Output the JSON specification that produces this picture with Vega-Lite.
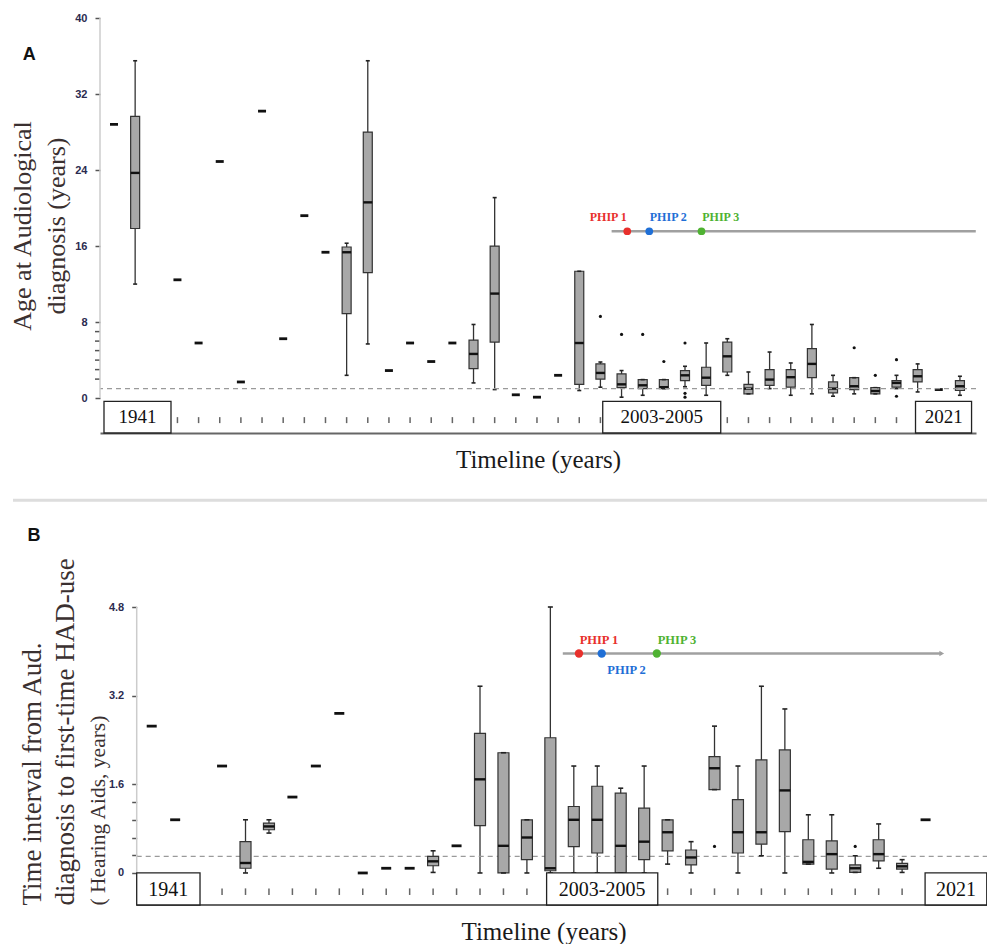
{
  "$schema": "https://vega.github.io/schema/vega-lite/v6.json",
  "background": "white",
  "padding": {"left": 9, "top": 12, "right": 0, "bottom": 0},
  "spacing": 26,
  "config": {"view": {"stroke": null}, "axis": {"grid": false, "labelOverlap": false}, "font": "Liberation Serif", "scale": {"continuousPadding": 0}},
  "datasets": {
    "A_box": [
      {"i": 2, "lo": 12.0, "q1": 17.85, "med": 23.7, "q3": 29.65, "hi": 35.5},
      {"i": 12, "lo": 2.4, "q1": 8.9, "med": 15.35, "q3": 15.9, "hi": 16.3},
      {"i": 13, "lo": 5.7, "q1": 13.2, "med": 20.6, "q3": 28.0, "hi": 35.5},
      {"i": 18, "lo": 1.6, "q1": 3.1, "med": 4.65, "q3": 6.1, "hi": 7.75},
      {"i": 19, "lo": 0.9, "q1": 5.9, "med": 11.0, "q3": 16.0, "hi": 21.1},
      {"i": 23, "lo": 0.8, "q1": 1.45, "med": 5.8, "q3": 13.35, "hi": 13.35},
      {"i": 24, "lo": 1.15, "q1": 2.0, "med": 2.65, "q3": 3.6, "hi": 3.8},
      {"i": 25, "lo": 0.1, "q1": 1.1, "med": 1.45, "q3": 2.55, "hi": 2.9},
      {"i": 26, "lo": 0.3, "q1": 1.0, "med": 1.35, "q3": 1.95, "hi": 1.95},
      {"i": 27, "lo": 1.0, "q1": 1.0, "med": 1.15, "q3": 1.95, "hi": 1.95},
      {"i": 28, "lo": 1.2, "q1": 1.85, "med": 2.4, "q3": 2.9, "hi": 3.35},
      {"i": 29, "lo": 0.3, "q1": 1.35, "med": 2.15, "q3": 3.25, "hi": 5.8},
      {"i": 30, "lo": 2.4, "q1": 2.75, "med": 4.4, "q3": 5.9, "hi": 6.25},
      {"i": 31, "lo": 0.45, "q1": 0.45, "med": 1.0, "q3": 1.45, "hi": 2.75},
      {"i": 32, "lo": 1.0, "q1": 1.35, "med": 1.95, "q3": 3.0, "hi": 4.85},
      {"i": 33, "lo": 0.3, "q1": 1.15, "med": 2.2, "q3": 3.0, "hi": 3.7},
      {"i": 34, "lo": 0.45, "q1": 2.15, "med": 3.6, "q3": 5.2, "hi": 7.75},
      {"i": 35, "lo": 0.2, "q1": 0.55, "med": 1.0, "q3": 1.7, "hi": 2.4},
      {"i": 36, "lo": 0.45, "q1": 0.9, "med": 1.25, "q3": 2.15, "hi": 2.15},
      {"i": 37, "lo": 0.45, "q1": 0.45, "med": 0.75, "q3": 1.1, "hi": 1.1},
      {"i": 38, "lo": 1.0, "q1": 1.15, "med": 1.6, "q3": 1.85, "hi": 2.4},
      {"i": 39, "lo": 0.65, "q1": 1.7, "med": 2.3, "q3": 3.0, "hi": 3.6},
      {"i": 41, "lo": 0.3, "q1": 0.8, "med": 1.25, "q3": 1.85, "hi": 2.3}
    ],
    "A_single": [
      {"i": 1, "v": 28.8}, {"i": 4, "v": 12.45}, {"i": 5, "v": 5.8}, {"i": 6, "v": 24.9},
      {"i": 7, "v": 1.7}, {"i": 8, "v": 30.2}, {"i": 9, "v": 6.25}, {"i": 10, "v": 19.2},
      {"i": 11, "v": 15.35}, {"i": 14, "v": 2.9}, {"i": 15, "v": 5.8}, {"i": 16, "v": 3.85},
      {"i": 17, "v": 5.8}, {"i": 20, "v": 0.35}, {"i": 21, "v": 0.1}, {"i": 22, "v": 2.4},
      {"i": 40, "v": 0.9}
    ],
    "A_out": [
      {"i": 24, "v": 8.6}, {"i": 25, "v": 6.7}, {"i": 26, "v": 6.7}, {"i": 27, "v": 3.85},
      {"i": 28, "v": 5.8}, {"i": 28, "v": 0.5}, {"i": 28, "v": 0.1}, {"i": 36, "v": 5.3},
      {"i": 37, "v": 2.4}, {"i": 38, "v": 4.05}, {"i": 38, "v": 0.2}
    ],
    "A_minor": [{"v": 2}, {"v": 3}, {"v": 4}, {"v": 5}, {"v": 6}, {"v": 7}],
    "A_ticks": [
      {"i": 4}, {"i": 5}, {"i": 6}, {"i": 7}, {"i": 8}, {"i": 9}, {"i": 10}, {"i": 11},
      {"i": 12}, {"i": 13}, {"i": 14}, {"i": 15}, {"i": 16}, {"i": 17}, {"i": 18}, {"i": 19},
      {"i": 20}, {"i": 21}, {"i": 22}, {"i": 23}, {"i": 24}, {"i": 30}, {"i": 31}, {"i": 32},
      {"i": 33}, {"i": 34}, {"i": 35}, {"i": 36}, {"i": 37}, {"i": 38}
    ],
    "A_years": [
      {"label": "1941", "start": 0.527, "end": 3.695, "mid": 2.11},
      {"label": "2003-2005", "start": 24.11, "end": 29.69, "mid": 26.9},
      {"label": "2021", "start": 38.9, "end": 41.55, "mid": 40.23}
    ],
    "A_line": [{"start": 24.53, "end": 41.75}],
    "A_phip": [
      {"label": "PHIP 1", "dot": 25.27, "lab": 24.37, "ly": 19.1},
      {"label": "PHIP 2", "dot": 26.31, "lab": 27.21, "ly": 19.1},
      {"label": "PHIP 3", "dot": 28.78, "lab": 29.69, "ly": 19.1}
    ],
    "B_box": [
      {"i": 5, "lo": 0, "q1": 0.085, "med": 0.18, "q3": 0.565, "hi": 0.96},
      {"i": 6, "lo": 0.72, "q1": 0.78, "med": 0.84, "q3": 0.9, "hi": 0.96},
      {"i": 13, "lo": 0.01, "q1": 0.13, "med": 0.21, "q3": 0.3, "hi": 0.4},
      {"i": 15, "lo": 0, "q1": 0.855, "med": 1.69, "q3": 2.52, "hi": 3.37},
      {"i": 16, "lo": 0, "q1": 0, "med": 0.49, "q3": 2.17, "hi": 2.17},
      {"i": 17, "lo": 0, "q1": 0.24, "med": 0.64, "q3": 0.96, "hi": 0.96},
      {"i": 18, "lo": 0, "q1": 0.04, "med": 0.085, "q3": 2.44, "hi": 4.8},
      {"i": 19, "lo": 0, "q1": 0.475, "med": 0.96, "q3": 1.2, "hi": 1.93},
      {"i": 20, "lo": 0, "q1": 0.36, "med": 0.96, "q3": 1.565, "hi": 1.93},
      {"i": 21, "lo": 0, "q1": 0, "med": 0.49, "q3": 1.44, "hi": 1.53},
      {"i": 22, "lo": 0, "q1": 0.24, "med": 0.565, "q3": 1.17, "hi": 1.93},
      {"i": 23, "lo": 0.16, "q1": 0.4, "med": 0.735, "q3": 0.96, "hi": 0.96},
      {"i": 24, "lo": 0, "q1": 0.145, "med": 0.28, "q3": 0.415, "hi": 0.565},
      {"i": 25, "lo": 1.505, "q1": 1.505, "med": 1.89, "q3": 2.1, "hi": 2.65},
      {"i": 26, "lo": 0, "q1": 0.36, "med": 0.735, "q3": 1.325, "hi": 1.93},
      {"i": 27, "lo": 0.31, "q1": 0.52, "med": 0.735, "q3": 2.04, "hi": 3.37},
      {"i": 28, "lo": 0, "q1": 0.745, "med": 1.49, "q3": 2.22, "hi": 2.96},
      {"i": 29, "lo": 0.16, "q1": 0.16, "med": 0.2, "q3": 0.6, "hi": 1.05},
      {"i": 30, "lo": 0, "q1": 0.07, "med": 0.34, "q3": 0.58, "hi": 1.05},
      {"i": 31, "lo": 0.01, "q1": 0.01, "med": 0.085, "q3": 0.145, "hi": 0.31},
      {"i": 32, "lo": 0.085, "q1": 0.22, "med": 0.34, "q3": 0.6, "hi": 0.885},
      {"i": 33, "lo": 0.01, "q1": 0.07, "med": 0.12, "q3": 0.175, "hi": 0.24}
    ],
    "B_single": [
      {"i": 1, "v": 2.65}, {"i": 2, "v": 0.96}, {"i": 4, "v": 1.93}, {"i": 7, "v": 1.37},
      {"i": 8, "v": 1.93}, {"i": 9, "v": 2.88}, {"i": 10, "v": 0.0}, {"i": 11, "v": 0.085},
      {"i": 12, "v": 0.085}, {"i": 14, "v": 0.49}, {"i": 34, "v": 0.96}
    ],
    "B_out": [{"i": 25, "v": 0.48}, {"i": 31, "v": 0.48}],
    "B_ticks": [
      {"i": 4}, {"i": 5}, {"i": 6}, {"i": 7}, {"i": 8}, {"i": 9}, {"i": 10}, {"i": 11},
      {"i": 12}, {"i": 13}, {"i": 14}, {"i": 15}, {"i": 16}, {"i": 17}, {"i": 23}, {"i": 24},
      {"i": 25}, {"i": 26}, {"i": 27}, {"i": 28}, {"i": 29}, {"i": 30}, {"i": 31}, {"i": 32}, {"i": 33}
    ],
    "B_years": [
      {"label": "1941", "start": 0.36, "end": 3.06, "mid": 1.71},
      {"label": "2003-2005", "start": 17.84, "end": 22.58, "mid": 20.21},
      {"label": "2021", "start": 33.98, "end": 36.61, "mid": 35.3}
    ],
    "B_line": [{"start": 18.53, "end": 34.69}],
    "B_phip": [
      {"label": "PHIP 1", "dot": 19.22, "lab": 20.07, "ly": 4.21},
      {"label": "PHIP 2", "dot": 20.19, "lab": 21.25, "ly": 3.67},
      {"label": "PHIP 3", "dot": 22.54, "lab": 23.4, "ly": 4.21}
    ]
  },
  "vconcat": [
    {
      "width": 876,
      "height": 415,
      "title": {"text": "A", "anchor": "start", "frame": "bounds", "orient": "top", "offset": -52, "dx": 13, "font": "Liberation Sans", "fontSize": 18, "fontWeight": "bold", "color": "#111"},
      "layer": [
        {
          "data": {"name": "A_box"},
          "mark": {"type": "rule", "color": "#333", "strokeWidth": 1.3},
          "encoding": {
            "x": {"field": "i", "type": "quantitative", "scale": {"domain": [0.338, 41.76], "nice": false, "zero": false, "padding": 0},
              "axis": {"title": "Timeline (years)", "titleFont": "Liberation Serif", "titleFontSize": 25, "titleFontWeight": "normal", "titleColor": "#1a1a1a", "titlePadding": 14, "labels": false, "ticks": false, "grid": false, "domain": true, "domainColor": "#666", "domainWidth": 2}},
            "y": {"field": "lo", "type": "quantitative", "scale": {"domain": [-3.67, 40], "nice": false, "zero": false, "padding": 0},
              "axis": {"title": ["Age at Audiological", "diagnosis (years)"], "titleFont": "Liberation Serif", "titleFontSize": 26, "titleFontWeight": "normal", "titleColor": "#3a3030", "titlePadding": 5, "titleLineHeight": 34,
                "values": [0, 8, 16, 24, 32, 40], "format": "d",
                "labelFont": "Liberation Sans", "labelFontSize": 11, "labelFontWeight": "bold", "labelColor": "#2b2b50", "labelPadding": 8,
                "tickSize": 5, "tickColor": "#555", "tickWidth": 1.5, "domain": false, "grid": false}},
            "y2": {"field": "hi"}
          }
        },
        {
          "data": {"name": "A_minor"},
          "mark": {"type": "tick", "orient": "horizontal", "size": 5, "thickness": 1.5, "color": "#555", "opacity": 1, "xOffset": -2.5},
          "encoding": {
            "x": {"datum": 0.338, "type": "quantitative"},
            "y": {"field": "v", "type": "quantitative"}
          }
        },
        {
          "data": {"name": "A_box"},
          "mark": {"type": "bar", "size": 9, "fill": "#a8a8a8", "stroke": "#333", "strokeWidth": 1.2},
          "encoding": {
            "x": {"field": "i", "type": "quantitative"},
            "y": {"field": "q1", "type": "quantitative"},
            "y2": {"field": "q3"}
          }
        },
        {
          "data": {"name": "A_box"},
          "mark": {"type": "tick", "orient": "horizontal", "size": 9, "thickness": 2.4, "color": "#111", "opacity": 1},
          "encoding": {
            "x": {"field": "i", "type": "quantitative"},
            "y": {"field": "med", "type": "quantitative"}
          }
        },
        {
          "data": {"name": "A_box"},
          "transform": [{"fold": ["lo", "hi"], "as": ["k", "cap"]}],
          "mark": {"type": "tick", "orient": "horizontal", "size": 4, "thickness": 1.6, "color": "#222", "opacity": 1},
          "encoding": {
            "x": {"field": "i", "type": "quantitative"},
            "y": {"field": "cap", "type": "quantitative"}
          }
        },
        {
          "data": {"name": "A_single"},
          "mark": {"type": "tick", "orient": "horizontal", "size": 8, "thickness": 2.8, "color": "#111", "opacity": 1},
          "encoding": {
            "x": {"field": "i", "type": "quantitative"},
            "y": {"field": "v", "type": "quantitative"}
          }
        },
        {
          "data": {"name": "A_out"},
          "mark": {"type": "point", "filled": true, "size": 10, "color": "#111", "opacity": 1},
          "encoding": {
            "x": {"field": "i", "type": "quantitative"},
            "y": {"field": "v", "type": "quantitative"}
          }
        },
        {
          "data": {"values": [{"ref": 1.0}]},
          "mark": {"type": "rule", "color": "#9a9a9a", "strokeWidth": 1.3, "strokeDash": [5, 4]},
          "encoding": {
            "y": {"field": "ref", "type": "quantitative"}
          }
        },
        {
          "data": {"values": [{"a": 0}]},
          "mark": {"type": "rule", "color": "#cccccc", "strokeWidth": 1.5},
          "encoding": {
            "x": {"datum": 0.338, "type": "quantitative"},
            "y": {"datum": 0, "type": "quantitative"},
            "y2": {"datum": 40}
          }
        },
        {
          "data": {"name": "A_ticks"},
          "mark": {"type": "rule", "color": "#666", "strokeWidth": 1.5},
          "encoding": {
            "x": {"field": "i", "type": "quantitative"},
            "y": {"datum": -2.0, "type": "quantitative"},
            "y2": {"datum": -2.63}
          }
        },
        {
          "data": {"name": "A_years"},
          "mark": {"type": "rect", "fill": "white", "stroke": "#222", "strokeWidth": 1.3},
          "encoding": {
            "x": {"field": "start", "type": "quantitative"},
            "x2": {"field": "end"},
            "y": {"datum": -0.35, "type": "quantitative"},
            "y2": {"datum": -3.67}
          }
        },
        {
          "data": {"name": "A_years"},
          "mark": {"type": "text", "font": "Liberation Serif", "fontSize": 19, "color": "#111", "baseline": "middle", "align": "center"},
          "encoding": {
            "x": {"field": "mid", "type": "quantitative"},
            "y": {"datum": -2.0, "type": "quantitative"},
            "text": {"field": "label"}
          }
        },
        {
          "data": {"name": "A_line"},
          "mark": {"type": "rule", "color": "#a0a0a0", "strokeWidth": 2.5},
          "encoding": {
            "x": {"field": "start", "type": "quantitative"},
            "x2": {"field": "end"},
            "y": {"datum": 17.56, "type": "quantitative"}
          }
        },
        {
          "data": {"name": "A_phip"},
          "mark": {"type": "point", "filled": true, "size": 60, "opacity": 1},
          "encoding": {
            "x": {"field": "dot", "type": "quantitative"},
            "y": {"datum": 17.56, "type": "quantitative"},
            "color": {"field": "label", "type": "nominal", "scale": {"domain": ["PHIP 1", "PHIP 2", "PHIP 3"], "range": ["#e8302c", "#1f6fd6", "#4fb232"]}, "legend": null}
          }
        },
        {
          "data": {"name": "A_phip"},
          "mark": {"type": "text", "font": "Liberation Serif", "fontSize": 12, "fontWeight": "bold", "baseline": "middle", "align": "center"},
          "encoding": {
            "x": {"field": "lab", "type": "quantitative"},
            "y": {"field": "ly", "type": "quantitative"},
            "text": {"field": "label"},
            "color": {"field": "label", "type": "nominal", "scale": {"domain": ["PHIP 1", "PHIP 2", "PHIP 3"], "range": ["#e8302c", "#1f6fd6", "#4fb232"]}, "legend": null}
          }
        }
      ]
    },
    {
      "width": 887,
      "height": 298,
      "title": {"text": "B", "anchor": "start", "frame": "bounds", "orient": "top", "offset": -46, "dx": 16, "font": "Liberation Sans", "fontSize": 18, "fontWeight": "bold", "color": "#111"},
      "resolve": {"axis": {"y": "independent"}},
      "layer": [
        {
          "data": {"name": "B_box"},
          "mark": {"type": "rule", "color": "#333", "strokeWidth": 1.3},
          "encoding": {
            "x": {"field": "i", "type": "quantitative", "scale": {"domain": [-1.205, 36.62], "nice": false, "zero": false, "padding": 0},
              "axis": {"title": "Timeline (years)", "titleFont": "Liberation Serif", "titleFontSize": 25, "titleFontWeight": "normal", "titleColor": "#1a1a1a", "titlePadding": 14, "labels": false, "ticks": false, "grid": false, "domain": false}},
            "y": {"field": "lo", "type": "quantitative", "scale": {"domain": [-0.578, 4.8], "nice": false, "zero": false, "padding": 0},
              "axis": {"orient": "left", "offset": -36.7, "title": ["Time interval from Aud.", "diagnosis to first-time HAD-use"], "titleFont": "Liberation Serif", "titleFontSize": 27, "titleFontWeight": "normal", "titleColor": "#3a3030", "titleAnchor": "start", "titlePadding": 29, "titleLineHeight": 33,
                "values": [0, 0.32, 0.64, 0.96, 1.28, 1.6, 3.2, 4.8], "labelExpr": "(datum.value == 0 || datum.value == 1.6 || datum.value == 3.2 || datum.value == 4.8) ? datum.label : ''", "format": "~g", "labelOverlap": false,
                "labelFont": "Liberation Sans", "labelFontSize": 11, "labelFontWeight": "bold", "labelColor": "#2b2b50", "labelPadding": 8,
                "tickSize": 5, "tickColor": "#555", "tickWidth": 1.5, "domain": false, "grid": false}},
            "y2": {"field": "hi"}
          }
        },
        {
          "data": {"values": [{"ref": 0.3}]},
          "mark": {"type": "rule", "color": "#9a9a9a", "strokeWidth": 1.3, "strokeDash": [5, 4]},
          "encoding": {
            "x": {"datum": 0.36, "type": "quantitative"},
            "x2": {"datum": 36.62},
            "y": {"field": "ref", "type": "quantitative",
              "axis": {"orient": "left", "offset": -36.7, "title": "( Hearing Aids, years)", "titleFont": "Liberation Serif", "titleFontSize": 21.5, "titleFontWeight": "normal", "titleColor": "#3a3030", "titleAnchor": "start", "titlePadding": 27, "labels": false, "ticks": false, "domain": false, "grid": false}}
          }
        },
        {
          "data": {"values": [{"a": 0}]},
          "mark": {"type": "rule", "color": "#666", "strokeWidth": 2},
          "encoding": {
            "x": {"datum": 0.36, "type": "quantitative"},
            "x2": {"datum": 36.62},
            "y": {"datum": -0.578, "type": "quantitative", "axis": null}
          }
        },
        {
          "data": {"name": "B_box"},
          "mark": {"type": "bar", "size": 11, "fill": "#a8a8a8", "stroke": "#333", "strokeWidth": 1.2},
          "encoding": {
            "x": {"field": "i", "type": "quantitative"},
            "y": {"field": "q1", "type": "quantitative", "axis": null},
            "y2": {"field": "q3"}
          }
        },
        {
          "data": {"name": "B_box"},
          "mark": {"type": "tick", "orient": "horizontal", "size": 11, "thickness": 2.4, "color": "#111", "opacity": 1},
          "encoding": {
            "x": {"field": "i", "type": "quantitative"},
            "y": {"field": "med", "type": "quantitative", "axis": null}
          }
        },
        {
          "data": {"name": "B_box"},
          "transform": [{"fold": ["lo", "hi"], "as": ["k", "cap"]}],
          "mark": {"type": "tick", "orient": "horizontal", "size": 5, "thickness": 1.6, "color": "#222", "opacity": 1},
          "encoding": {
            "x": {"field": "i", "type": "quantitative"},
            "y": {"field": "cap", "type": "quantitative", "axis": null}
          }
        },
        {
          "data": {"name": "B_single"},
          "mark": {"type": "tick", "orient": "horizontal", "size": 10, "thickness": 2.8, "color": "#111", "opacity": 1},
          "encoding": {
            "x": {"field": "i", "type": "quantitative"},
            "y": {"field": "v", "type": "quantitative", "axis": null}
          }
        },
        {
          "data": {"name": "B_out"},
          "mark": {"type": "point", "filled": true, "size": 10, "color": "#111", "opacity": 1},
          "encoding": {
            "x": {"field": "i", "type": "quantitative"},
            "y": {"field": "v", "type": "quantitative", "axis": null}
          }
        },
        {
          "data": {"values": [{"a": 0}]},
          "mark": {"type": "rule", "color": "#cccccc", "strokeWidth": 1.5},
          "encoding": {
            "x": {"datum": 0.36, "type": "quantitative"},
            "y": {"datum": 0, "type": "quantitative", "axis": null},
            "y2": {"datum": 4.8}
          }
        },
        {
          "data": {"name": "B_ticks"},
          "mark": {"type": "rule", "color": "#666", "strokeWidth": 1.5},
          "encoding": {
            "x": {"field": "i", "type": "quantitative"},
            "y": {"datum": -0.278, "type": "quantitative", "axis": null},
            "y2": {"datum": -0.397}
          }
        },
        {
          "data": {"name": "B_years"},
          "mark": {"type": "rect", "fill": "white", "stroke": "#222", "strokeWidth": 1.3},
          "encoding": {
            "x": {"field": "start", "type": "quantitative"},
            "x2": {"field": "end"},
            "y": {"datum": 0, "type": "quantitative", "axis": null},
            "y2": {"datum": -0.578}
          }
        },
        {
          "data": {"name": "B_years"},
          "mark": {"type": "text", "font": "Liberation Serif", "fontSize": 20, "color": "#111", "baseline": "middle", "align": "center"},
          "encoding": {
            "x": {"field": "mid", "type": "quantitative"},
            "y": {"datum": -0.3, "type": "quantitative", "axis": null},
            "text": {"field": "label"}
          }
        },
        {
          "data": {"name": "B_line"},
          "mark": {"type": "rule", "color": "#a0a0a0", "strokeWidth": 2.5},
          "encoding": {
            "x": {"field": "start", "type": "quantitative"},
            "x2": {"field": "end"},
            "y": {"datum": 3.96, "type": "quantitative", "axis": null}
          }
        },
        {
          "data": {"name": "B_line"},
          "mark": {"type": "point", "shape": "triangle-right", "filled": true, "size": 30, "color": "#a0a0a0", "opacity": 1},
          "encoding": {
            "x": {"field": "end", "type": "quantitative"},
            "y": {"datum": 3.96, "type": "quantitative", "axis": null}
          }
        },
        {
          "data": {"name": "B_phip"},
          "mark": {"type": "point", "filled": true, "size": 70, "opacity": 1},
          "encoding": {
            "x": {"field": "dot", "type": "quantitative"},
            "y": {"datum": 3.96, "type": "quantitative", "axis": null},
            "color": {"field": "label", "type": "nominal", "scale": {"domain": ["PHIP 1", "PHIP 2", "PHIP 3"], "range": ["#e8302c", "#1f6fd6", "#4fb232"]}, "legend": null}
          }
        },
        {
          "data": {"name": "B_phip"},
          "mark": {"type": "text", "font": "Liberation Serif", "fontSize": 12.5, "fontWeight": "bold", "baseline": "middle", "align": "center"},
          "encoding": {
            "x": {"field": "lab", "type": "quantitative"},
            "y": {"field": "ly", "type": "quantitative", "axis": null},
            "text": {"field": "label"},
            "color": {"field": "label", "type": "nominal", "scale": {"domain": ["PHIP 1", "PHIP 2", "PHIP 3"], "range": ["#e8302c", "#1f6fd6", "#4fb232"]}, "legend": null}
          }
        },
        {
          "data": {"values": [{"a": 0}]},
          "mark": {"type": "rule", "color": "#dddddd", "strokeWidth": 3},
          "encoding": {
            "x": {"datum": -4.915, "type": "quantitative"},
            "x2": {"datum": 36.62},
            "y": {"datum": 6.728, "type": "quantitative", "axis": null}
          }
        }
      ]
    }
  ]
}
